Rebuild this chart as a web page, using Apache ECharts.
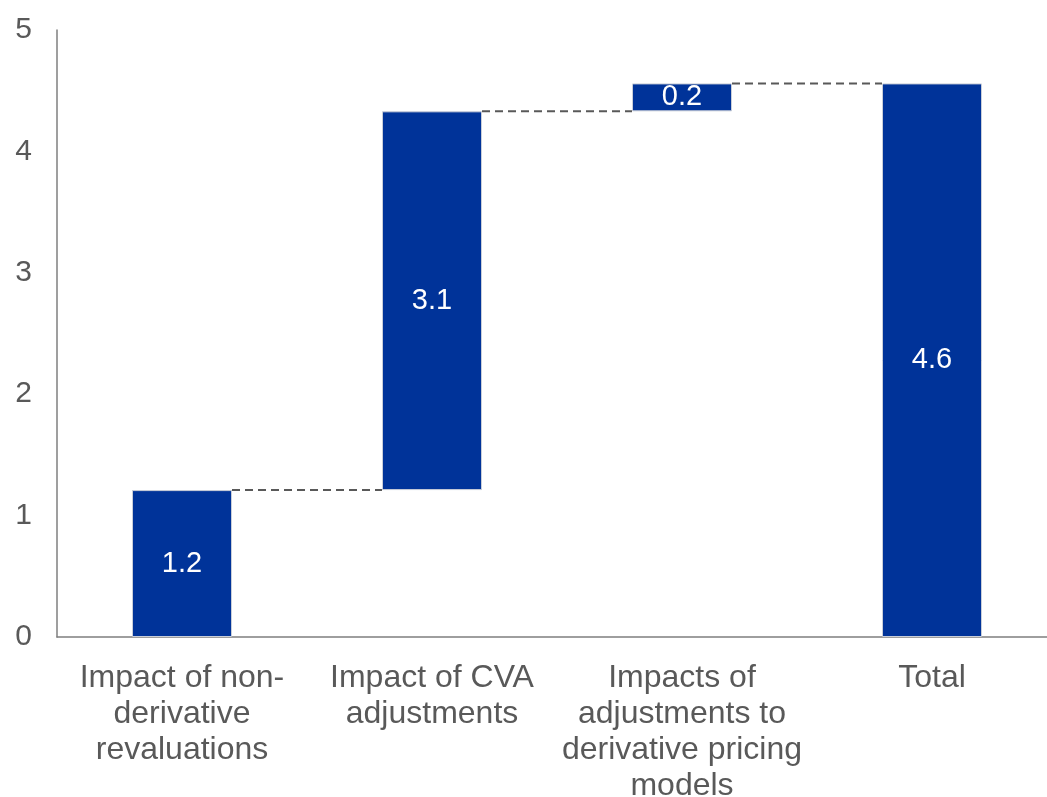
<!DOCTYPE html>
<html>
<head>
<meta charset="utf-8">
<script src="https://cdn.jsdelivr.net/npm/echarts@6/dist/echarts.min.js"></script>
<style>html,body{margin:0;padding:0;background:#fff;overflow:hidden;}#chart{width:1047px;height:797px;}</style>
</head>
<body>
<div id="chart"></div>
<script>
var categories = ['Impact of non-\nderivative\nrevaluations', 'Impact of CVA\nadjustments', 'Impacts of\nadjustments to\nderivative pricing\nmodels', 'Total'];
var steps = [1.21, 3.12, 0.23];
var total = 4.56;
var yTicks = [0, 1, 2, 3, 4, 5];

var values = steps.concat([total]);
var bases = [];
var cumulative = [];
var run = 0;
for (var i = 0; i < steps.length; i++) {
  bases.push(run);
  run += steps[i];
  cumulative.push(run);
}
bases.push(0);
var connectorData = [];
for (var j = 0; j < cumulative.length; j++) {
  connectorData.push([j, j < cumulative.length - 1 ? cumulative[j] : total]);
}

var chart = echarts.init(document.getElementById('chart'));
var FONT = '"Liberation Sans", Arial, sans-serif';
chart.setOption({
  animation: false,
  textStyle: { fontFamily: FONT },
  grid: { left: 57, top: 30, width: 1000, bottom: 160, outerBoundsMode: 'none', containLabel: false },
  xAxis: {
    type: 'category',
    data: categories,
    axisLine: { lineStyle: { color: '#7f7f7f', width: 1.5 } },
    axisTick: { show: false },
    axisLabel: { color: '#595959', fontSize: 32, lineHeight: 36, margin: 23, interval: 0, fontFamily: FONT }
  },
  yAxis: {
    type: 'value',
    min: yTicks[0],
    max: yTicks[yTicks.length - 1],
    interval: 1,
    splitLine: { show: false },
    axisLine: { show: true, lineStyle: { color: '#7f7f7f', width: 1.5 } },
    axisTick: { show: false },
    axisLabel: { color: '#595959', fontSize: 30, margin: 25, fontFamily: FONT }
  },
  series: [
    {
      type: 'bar',
      stack: 'w',
      data: bases,
      barWidth: '40%',
      itemStyle: { color: 'transparent' },
      silent: true
    },
    {
      type: 'bar',
      stack: 'w',
      data: values,
      barWidth: '40%',
      itemStyle: { color: '#003399', borderColor: '#c9ced8', borderWidth: 1 },
      label: {
        show: true,
        position: 'inside',
        color: '#ffffff',
        fontSize: 29,
        fontFamily: FONT,
        formatter: function (p) { return p.value.toFixed(1); }
      }
    },
    {
      type: 'custom',
      data: connectorData,
      z: 5,
      renderItem: function (params, api) {
        var idx = api.value(0);
        var v = api.value(1);
        var half = api.size([1, 0])[0] * 0.2;
        var p1 = api.coord([idx, v]);
        var p2 = api.coord([idx + 1, v]);
        return {
          type: 'line',
          shape: { x1: p1[0] + half, y1: p1[1], x2: p2[0] - half, y2: p2[1] },
          style: { stroke: '#595959', lineWidth: 2, lineDash: [8, 5] }
        };
      }
    }
  ]
});
</script>
</body>
</html>
